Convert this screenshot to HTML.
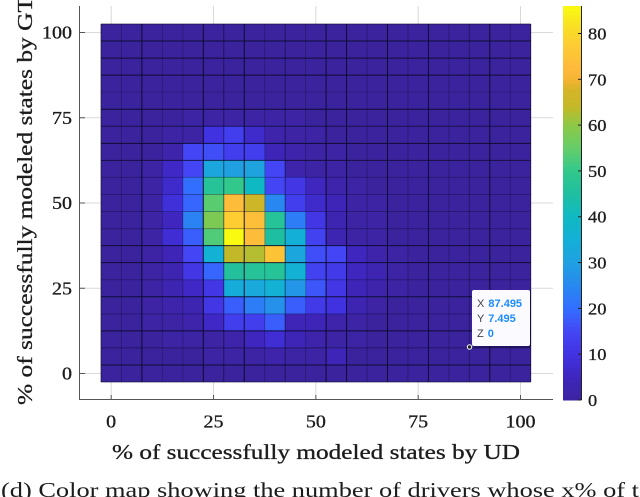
<!DOCTYPE html>
<html lang="en">
<head>
<meta charset="utf-8">
<title>Driver color map</title>
<style>
  html, body { margin: 0; padding: 0; background: #fff; }
  body { width: 640px; height: 497px; overflow: hidden; }
  svg { display: block; }
  .serif { font-family: "Liberation Serif", serif; fill: #1c1c1c; stroke: #1c1c1c; stroke-width: 0.3px; }
  .tip { font-family: "Liberation Sans", sans-serif; font-size: 11px; }
</style>
</head>
<body>
<svg id="chart" width="640" height="497" viewBox="0 0 640 497" xmlns="http://www.w3.org/2000/svg">
  <g id="grid-layer"></g>
  <g id="cell-layer"></g>
  <g id="line-layer"></g>
  <g id="axis-layer">
    <line x1="79.5" y1="6" x2="79.5" y2="400" stroke="#555" stroke-width="1"/>
    <line x1="79.5" y1="399.5" x2="553" y2="399.5" stroke="#555" stroke-width="1"/>
  </g>
  <g id="colorbar-layer"></g>
  <text class="serif" x="112" y="459" font-size="21" textLength="408" lengthAdjust="spacingAndGlyphs">% of successfully modeled states by UD</text>
  <text class="serif" transform="translate(32,405) rotate(-90)" x="0" y="0" font-size="21" textLength="408" lengthAdjust="spacingAndGlyphs">% of successfully modeled states by GT</text>
  <text class="serif" x="1" y="497" font-size="21" textLength="638" lengthAdjust="spacingAndGlyphs" style="stroke-width:0">(d) Color map showing the number of drivers whose x% of t</text>
  <g>
    <rect x="473" y="291" width="58" height="56.5" rx="2" fill="#000" opacity="0.35"/>
    <rect x="472" y="290" width="58" height="56" rx="2" fill="#fbfbff"/>
    <text class="tip" x="477" y="307" fill="#444">X <tspan fill="#1a8cff" font-weight="bold" dx="1">87.495</tspan></text>
    <text class="tip" x="477" y="322" fill="#444">Y <tspan fill="#1a8cff" font-weight="bold" dx="1">7.495</tspan></text>
    <text class="tip" x="477" y="337" fill="#444">Z <tspan fill="#1a8cff" font-weight="bold" dx="1">0</tspan></text>
    <circle cx="469.5" cy="347" r="2.2" fill="#222" stroke="#fff" stroke-width="1"/>
  </g>
</svg>
<script>
// ---- chart data ----
const xCategories = [0,5,10,15,20,25,30,35,40,45,50,55,60,65,70,75,80,85,90,95,100];
const yCategories = [100,95,90,85,80,75,70,65,60,55,50,45,40,35,30,25,20,15,10,5,0];
const xTickLabels = [0,25,50,75,100];
const yTickLabels = [0,25,50,75,100];
const colorbarTickLabels = [0,10,20,30,40,50,60,70,80];
const colorbarMax = 86;
const driverCounts = [
  [0,0,0,0,0,0,0,0,0,0,0,0,0,0,0,0,0,0,0,0,0],
  [0,0,0,0,0,0,0,0,0,0,0,0,0,0,0,0,0,0,0,0,0],
  [0,0,0,0,0,0,0,0,0,0,0,0,0,0,0,0,0,0,0,0,0],
  [0,0,0,0,0,0,0,0,0,0,0,0,0,0,0,0,0,0,0,0,0],
  [0,0,0,0,0,0,0,0,0,0,0,0,0,0,0,0,0,0,0,0,0],
  [0,0,0,0,1,1,1,1,1,1,0,0,0,0,0,0,0,0,0,0,0],
  [0,0,0,1,1,10,13,7,2,1,1,0,0,0,0,0,0,0,0,0,0],
  [0,0,0,2,15,16,13,13,4,2,1,1,0,0,0,0,0,0,0,0,0],
  [0,0,1,6,15,32,30,31,15,2,1,1,0,0,0,0,0,0,0,0,0],
  [0,0,1,7,20,47,50,40,15,11,5,2,1,0,0,0,0,0,0,0,0],
  [0,0,1,9,19,54,73,66,25,13,7,4,1,1,0,0,0,0,0,0,0],
  [0,0,1,5,24,58,78,74,47,23,11,3,1,1,0,0,0,0,0,0,0],
  [0,0,1,8,18,53,86,73,45,35,14,3,1,1,0,0,0,0,0,0,0],
  [0,0,1,4,15,36,64,63,75,32,16,15,5,2,1,0,0,0,0,0,0],
  [0,0,1,3,11,19,46,47,47,36,14,12,5,3,1,0,0,0,0,0,0],
  [0,0,1,3,6,11,34,33,36,28,17,11,4,2,1,0,0,0,0,0,0],
  [0,0,1,2,3,11,18,23,27,18,12,10,3,1,0,0,0,0,0,0,0],
  [0,0,1,1,2,6,13,13,18,4,4,2,1,0,0,0,0,0,0,0,0],
  [0,0,0,1,1,1,2,5,8,4,2,1,1,0,0,0,0,0,0,0,0],
  [0,0,0,0,0,1,1,1,2,1,1,4,0,0,0,0,0,0,0,0,0],
  [0,0,0,0,0,0,0,0,0,0,0,0,0,0,0,0,0,0,0,0,0]
];

// ---- styling of the colour ramp and the irregular cell borders ----
const rampValues = [0,5,10,15,20,25,30,35,40,45,50,55,60,64,68,70,72,78,82,86];
const rampReds   = [60,62,65,68,50,40,32,20,15,30,50,100,140,195,215,245,253,253,248,250];
const rampGreens = [35,38,50,70,110,135,160,175,185,190,200,205,200,185,180,180,184,205,225,250];
const rampBlues  = [158,190,225,245,255,240,225,215,195,160,140,105,70,40,40,50,60,50,35,16];
const rowEdgeDarkness = [0.6,0.9,0.9,0.9,0.25,0.9,0.7,0.9,0.8,0.35,0.35,0.35,0.35,0.9,0.9,0.35,0.9,0.35,0.9,0.5,0.9,0.6];
const colEdgeDarkness = [0.6,0.3,0.95,0.3,0.3,0.95,0.55,0.95,0.3,0.55,0.3,0.95,0.9,0.3,0.9,0.3,0.9,0.3,0.45,0.95,0.3,0.6];

// ---- scales ----
const svgNS = "http://www.w3.org/2000/svg";
const xScale = v => 111.2 + (v - 0) * (520.5 - 111.2) / 100;
const yScale = v => 373.5 - (v - 0) * (373.5 - 32.5) / 100;
const barScale = v => 400 - v * (400 - 6) / colorbarMax;
const halfX = (xScale(5) - xScale(0)) / 2;
const halfY = (yScale(0) - yScale(5)) / 2;

function colorFor(v) {
  let i = 0;
  while (i < rampValues.length - 2 && v > rampValues[i + 1]) i++;
  const t = Math.max(0, Math.min(1, (v - rampValues[i]) / (rampValues[i + 1] - rampValues[i])));
  const mix = a => Math.round(a[i] + (a[i + 1] - a[i]) * t);
  return "rgb(" + mix(rampReds) + "," + mix(rampGreens) + "," + mix(rampBlues) + ")";
}
function make(tag, attrs, parent) {
  const el = document.createElementNS(svgNS, tag);
  for (const k in attrs) el.setAttribute(k, attrs[k]);
  parent.appendChild(el);
  return el;
}

const gridLayer = document.getElementById("grid-layer");
const cellLayer = document.getElementById("cell-layer");
const lineLayer = document.getElementById("line-layer");
const axisLayer = document.getElementById("axis-layer");
const barLayer = document.getElementById("colorbar-layer");

// gridlines + axis ticks
xTickLabels.forEach(v => {
  const g = make("line", {x1: xScale(v), x2: xScale(v), y1: 6, y2: 400, stroke: "#d9d9d9", "stroke-width": 1}, gridLayer);
  
  
  const t = make("line", {x1: xScale(v), x2: xScale(v), y1: 395, y2: 400, stroke: "#555", "stroke-width": 1}, axisLayer);
  
  
  const l = make("text", {x: xScale(v), y: 427.5, "text-anchor": "middle", "font-size": 18, textLength: String(v).length * 10, lengthAdjust: "spacingAndGlyphs", class: "serif"}, axisLayer);
  l.textContent = v;
  
  
});
yTickLabels.forEach(v => {
  const g = make("line", {x1: 80, x2: 553, y1: yScale(v), y2: yScale(v), stroke: "#d9d9d9", "stroke-width": 1}, gridLayer);
  
  
  const t = make("line", {x1: 80, x2: 85, y1: yScale(v), y2: yScale(v), stroke: "#555", "stroke-width": 1}, axisLayer);
  
  
  const l = make("text", {x: 72, y: yScale(v) + 6, "text-anchor": "end", "font-size": 18, textLength: String(v).length * 10, lengthAdjust: "spacingAndGlyphs", class: "serif"}, axisLayer);
  l.textContent = v;
  
  
});

// heatmap cells
yCategories.forEach((yv, r) => {
  xCategories.forEach((xv, c) => {
    const x0 = Math.round(xScale(xv) - halfX), x1 = Math.round(xScale(xv) + halfX);
    const y0 = Math.round(yScale(yv) - halfY), y1 = Math.round(yScale(yv) + halfY);
    const cell = make("rect", {x: x0, y: y0, width: x1 - x0, height: y1 - y0, fill: colorFor(driverCounts[r][c])}, cellLayer);
    
    
  });
});

// cell borders
const xLeft = xScale(xCategories[0]) - halfX, xRight = xScale(xCategories[20]) + halfX;
const yTop = yScale(yCategories[0]) - halfY, yBottom = yScale(yCategories[20]) + halfY;
rowEdgeDarkness.forEach((d, k) => {
  const y = yTop + k * 2 * halfY;
  const ln = make("line", {x1: xLeft, x2: xRight, y1: y, y2: y, stroke: "#0a0a28", "stroke-opacity": d, "stroke-width": 1}, lineLayer);
  
  
});
colEdgeDarkness.forEach((d, k) => {
  const x = xLeft + k * 2 * halfX;
  const ln = make("line", {x1: x, x2: x, y1: yTop, y2: yBottom, stroke: "#0a0a28", "stroke-opacity": d, "stroke-width": 1}, lineLayer);
  
  
});

// colorbar
for (let level = 0; level < colorbarMax; level++) {
  const top = barScale(level + 1), bottom = barScale(level);
  const band = make("rect", {x: 563, y: top, width: 18.5, height: bottom - top + 0.5, fill: colorFor(level + 0.5)}, barLayer);
  
  
}
const barEdge = make("line", {x1: 581.5, x2: 581.5, y1: 6, y2: 400, stroke: "#222", "stroke-width": 1}, barLayer);


colorbarTickLabels.forEach(v => {
  const t = make("line", {x1: 578, x2: 581.5, y1: barScale(v), y2: barScale(v), stroke: "#222", "stroke-width": 1}, barLayer);
  
  
  const l = make("text", {x: 588, y: barScale(v) + 6, "font-size": 17, textLength: String(v).length * 9.2, lengthAdjust: "spacingAndGlyphs", class: "serif"}, barLayer);
  l.textContent = v;
  
  
});
</script>
</body>
</html>
